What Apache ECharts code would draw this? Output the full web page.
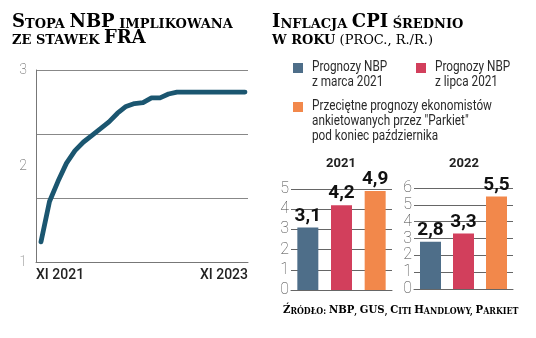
<!DOCTYPE html>
<html>
<head>
<meta charset="utf-8">
<script src="https://cdn.jsdelivr.net/npm/echarts@6/dist/echarts.min.js"></script>
<style>
  html, body { margin: 0; padding: 0; background: #fff; }
  #chart { width: 536px; height: 338px; }
</style>
</head>
<body>
<div id="chart"></div>
<script>
// Implied NBP rate from FRA quotes, monthly
const months = ['XI 2021','XII 2021','I 2022','II 2022','III 2022','IV 2022','V 2022','VI 2022',
  'VII 2022','VIII 2022','IX 2022','X 2022','XI 2022','XII 2022','I 2023','II 2023','III 2023',
  'IV 2023','V 2023','VI 2023','VII 2023','VIII 2023','IX 2023','X 2023','XI 2023'];
const fraRate = [1.21, 1.63, 1.84, 2.03, 2.16, 2.25, 2.32, 2.39, 2.46, 2.55, 2.62, 2.65, 2.66,
  2.71, 2.71, 2.75, 2.77, 2.77, 2.77, 2.77, 2.77, 2.77, 2.77, 2.77, 2.77];
const rateTicks = ['XI 2021', 'XI 2023'];

// Average CPI inflation forecasts (% y/y)
const forecastNames = ['Prognozy NBP z marca 2021', 'Prognozy NBP z lipca 2021',
  'Przeciętne prognozy ekonomistów ankietowanych przez "Parkiet" pod koniec października'];
const legendLines = [
  ['Prognozy NBP', 'z marca 2021'],
  ['Prognozy NBP', 'z lipca 2021'],
  ['Przeciętne prognozy ekonomistów', 'ankietowanych przez "Parkiet"', 'pod koniec października']
];
const years = ['2021', '2022'];
const cpi2021 = [3.1, 4.2, 4.9];
const cpi2022 = [2.8, 3.3, 5.5];

const palette = ['#4e6e89', '#d23f5c', '#f2884b'];
const lineColor = '#1b5670';
const SERIF = "'DejaVu Serif', 'Liberation Serif', serif";
const SANS = "Roboto, 'Liberation Sans', sans-serif";

// Small-caps headline: capitals stay big, lowercase letters become small capitals
function smallCaps(text, bigKey, smallKey) {
  let out = '', cur = null, buf = '';
  for (const ch of text) {
    const isCap = ch !== ch.toLowerCase() && ch === ch.toUpperCase();
    const cls = isCap ? bigKey : smallKey;
    const piece = isCap ? ch : ch.toUpperCase();
    if (cls !== cur && buf) { out += '{' + cur + '|' + buf + '}'; buf = ''; }
    cur = cls; buf += piece;
  }
  if (buf) out += '{' + cur + '|' + buf + '}';
  return out;
}

const headRich = {
  B: { fontFamily: SERIF, fontWeight: 'bold', fontSize: 18, color: '#222', verticalAlign: 'bottom' },
  S: { fontFamily: SERIF, fontWeight: 'bold', fontSize: 13, color: '#222', verticalAlign: 'bottom' },
  RB: { fontFamily: SERIF, fontWeight: 'normal', fontSize: 18, color: '#333', verticalAlign: 'bottom' },
  RS: { fontFamily: SERIF, fontWeight: 'normal', fontSize: 13, color: '#333', verticalAlign: 'bottom' }
};
const srcRich = {
  B: { fontFamily: SERIF, fontWeight: 'bold', fontSize: 11.5, color: '#333', verticalAlign: 'bottom' },
  S: { fontFamily: SERIF, fontWeight: 'bold', fontSize: 9, color: '#333', verticalAlign: 'bottom' }
};

function headline(text, x, y, rich, sx) {
  return { type: 'text', x: x, y: y, scaleX: sx || 1, silent: true,
    style: { text: text, rich: rich || headRich, verticalAlign: 'bottom', align: 'left' } };
}

const graphics = [
  headline(smallCaps('Stopa NBP implikowana', 'B', 'S'), 12, 31),
  headline(smallCaps('ze stawek FRA', 'B', 'S'), 12, 47),
  headline(smallCaps('Inflacja CPI średnio', 'B', 'S'), 272, 31),
  headline(smallCaps('w roku', 'B', 'S') + smallCaps(' (proc., r./r.)', 'RB', 'RS'), 272, 47),
  headline(smallCaps('Źródło: NBP, GUS, Citi Handlowy, Parkiet', 'B', 'S'), 283, 316, srcRich, 0.88)
];

// Legend: colour squares with wrapped, condensed labels
const legendPos = [[293, 63], [416, 63], [293, 102]];
legendLines.forEach((lines, i) => {
  const [lx, ly] = legendPos[i];
  graphics.push({ type: 'rect', shape: { x: lx, y: ly, width: 10, height: 10 },
    style: { fill: palette[i] }, silent: true });
  graphics.push({ type: 'text', x: lx + 19, y: ly - 3, scaleX: 0.84, silent: true,
    style: { text: lines.join('\n'), fontFamily: SANS, fontSize: 14, lineHeight: 15,
      fill: '#2a2a2a', verticalAlign: 'top' } });
});

// Year headers above the two bar panels
const yearX = [341, 464];
years.forEach((yr, i) => {
  graphics.push({ type: 'text', x: yearX[i], y: 170, silent: true,
    style: { text: yr, fontFamily: SANS, fontWeight: 'bold', fontSize: 13, fill: '#222',
      align: 'center', verticalAlign: 'bottom' } });
});

const gridLineStyle = { color: '#666', width: 1 };
const barYLabel = { fontFamily: SANS, fontWeight: 'lighter', fontSize: 16, color: '#444', margin: 2 };

function barSeries(values, axis) {
  return {
    type: 'bar', xAxisIndex: axis, yAxisIndex: axis + 1, barWidth: 21,
    data: values.map((v, i) => ({ value: v, itemStyle: { color: palette[i] } })),
    label: { show: true, position: 'top', distance: 2, fontFamily: SANS, fontWeight: 'bold',
      fontSize: 19, color: '#111', formatter: p => p.value.toFixed(1).replace('.', ',') },
    silent: true
  };
}

const option = {
  animation: false,
  backgroundColor: '#fff',
  graphic: graphics,
  grid: [
    { left: 36, top: 70, width: 212, height: 192 },   // frame of the FRA panel
    { left: 41, top: 70, width: 204, height: 192 },   // FRA line
    { left: 291, top: 189, width: 101, height: 101 },  // 2021 bars
    { left: 414, top: 188, width: 99, height: 101 }    // 2022 bars
  ],
  xAxis: [
    { type: 'category', gridIndex: 0, data: rateTicks, boundaryGap: false,
      axisLine: { lineStyle: { color: '#777', width: 1 } }, axisTick: { show: false },
      axisLabel: { fontFamily: SANS, fontSize: 14, fontWeight: 500, color: '#222', margin: 6,
        alignMinLabel: 'left', alignMaxLabel: 'right' } },
    { type: 'category', gridIndex: 1, data: months, boundaryGap: false, show: false },
    { type: 'category', gridIndex: 2, data: forecastNames, axisTick: { show: false },
      axisLabel: { show: false }, axisLine: { lineStyle: gridLineStyle } },
    { type: 'category', gridIndex: 3, data: forecastNames, axisTick: { show: false },
      axisLabel: { show: false }, axisLine: { lineStyle: gridLineStyle } }
  ],
  yAxis: [
    { type: 'value', gridIndex: 0, min: 1, max: 3, interval: 1,
      axisLine: { show: true, lineStyle: { color: '#777', width: 1 } }, axisTick: { show: false },
      splitLine: { show: false },
      axisLabel: { fontFamily: SANS, fontWeight: 'lighter', fontSize: 14, color: '#555', margin: 9 } },
    { type: 'value', gridIndex: 0, min: 1, max: 3, interval: 2 / 3, position: 'right',
      axisLine: { show: false }, axisTick: { show: false }, axisLabel: { show: false },
      splitLine: { lineStyle: { color: '#888', width: 1 } } },
    { type: 'value', gridIndex: 1, min: 1, max: 3, show: false, splitLine: { show: false } },
    { type: 'value', gridIndex: 2, min: 0, max: 5, interval: 1,
      axisLine: { show: false }, axisTick: { show: false }, axisLabel: barYLabel,
      splitLine: { lineStyle: gridLineStyle } },
    { type: 'value', gridIndex: 3, min: 0, max: 6, interval: 1,
      axisLine: { show: false }, axisTick: { show: false }, axisLabel: barYLabel,
      splitLine: { lineStyle: gridLineStyle } }
  ],
  series: [
    { type: 'line', xAxisIndex: 1, yAxisIndex: 2, data: fraRate, symbol: 'none', smooth: false,
      lineStyle: { color: lineColor, width: 4.8, cap: 'round', join: 'round' }, silent: true },
    Object.assign(barSeries(cpi2021, 2), { yAxisIndex: 3 }),
    Object.assign(barSeries(cpi2022, 3), { yAxisIndex: 4 })
  ]
};

const chart = echarts.init(document.getElementById('chart'), null, { renderer: 'canvas' });
chart.setOption(option);
</script>
</body>
</html>
